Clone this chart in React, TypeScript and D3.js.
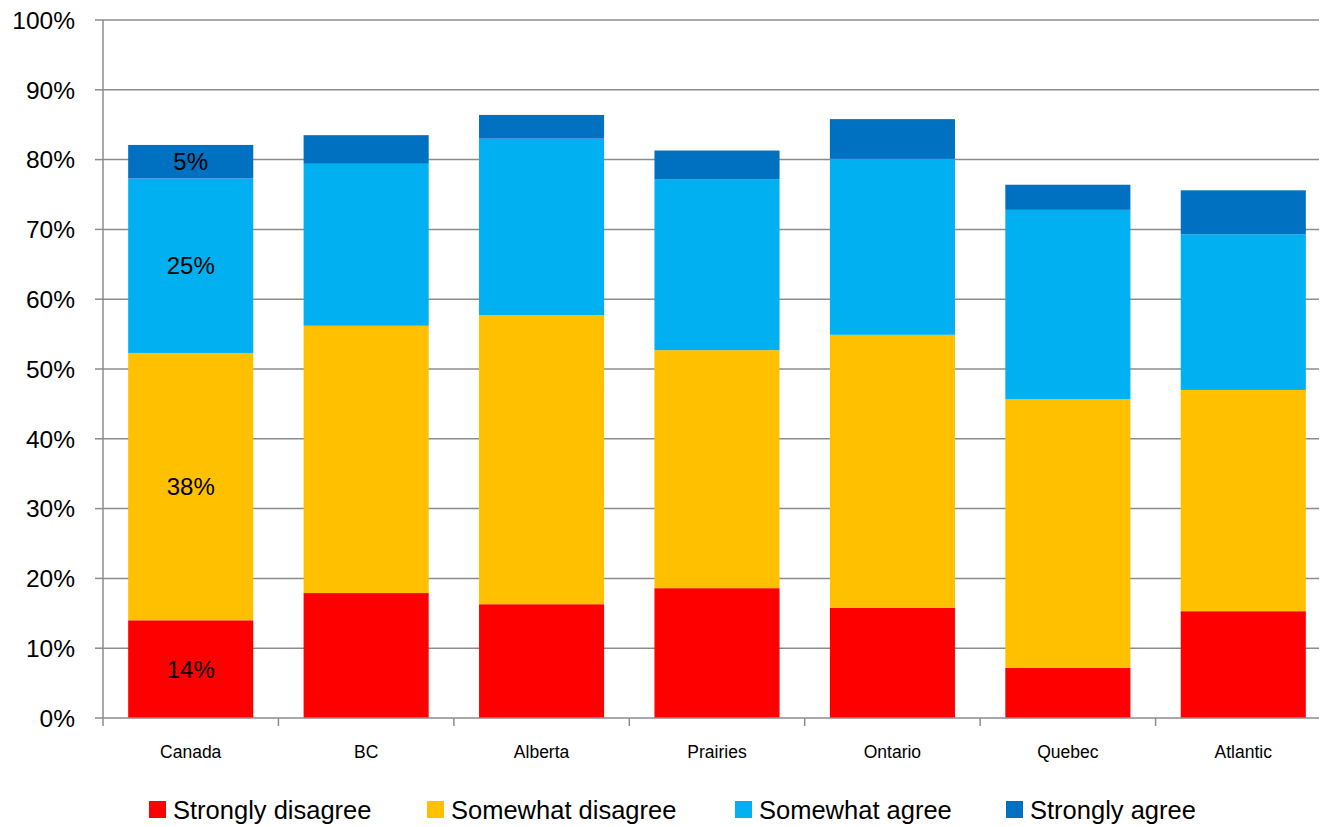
import React from "react";
import * as d3 from "d3";

const regions = ["Canada", "BC", "Alberta", "Prairies", "Ontario", "Quebec", "Atlantic"];
const seriesNames = ["Strongly disagree", "Somewhat disagree", "Somewhat agree", "Strongly agree"];
const seriesColors = ["#FF0000", "#FFC000", "#00B0F0", "#0070C0"];

const stronglyDisagree = [14.0, 17.9, 16.3, 18.6, 15.8, 7.2, 15.3];
const somewhatDisagree = [38.3, 38.3, 41.4, 34.1, 39.1, 38.5, 31.7];
const somewhatAgree = [25.0, 23.2, 25.3, 24.5, 25.2, 27.1, 22.3];
const stronglyAgree = [4.8, 4.1, 3.4, 4.1, 5.7, 3.6, 6.3];

const yTicks = [0, 10, 20, 30, 40, 50, 60, 70, 80, 90, 100];
// Only the Canada column carries value labels
const labelledRegion = "Canada";

const W = 1321;
const H = 827;
const left = 103;
const top = 20;
const bottom = 718;
const gridRight = 1319;

export default function App() {
  const rows = regions.map((r, i) => ({
    region: r,
    [seriesNames[0]]: stronglyDisagree[i],
    [seriesNames[1]]: somewhatDisagree[i],
    [seriesNames[2]]: somewhatAgree[i],
    [seriesNames[3]]: stronglyAgree[i],
  }));
  const stack = d3.stack<any>().keys(seriesNames)(rows);

  const x = d3.scaleBand<string>().domain(regions).range([left, 1331]).paddingInner(0.287).paddingOuter(0.1435);
  const xTicks = d3.scaleBand<string>().domain(regions).range([left, 1331]);
  const y = d3.scaleLinear().domain([0, 100]).range([bottom, top]);

  const font = "'Liberation Sans', Arial, sans-serif";
  const legendX = [149, 427, 735, 1006];

  return (
    <svg width={W} height={H} style={{ position: "absolute", left: 0, top: 0, background: "#fff" }}>
      {yTicks.map((t) => (
        <g key={t}>
          {t > 0 && (
            <line x1={left} x2={gridRight} y1={y(t)} y2={y(t)} stroke="#8C8C8C" strokeWidth={1.5} />
          )}
          <line x1={95} x2={left} y1={y(t)} y2={y(t)} stroke="#8C8C8C" strokeWidth={1.5} />
          <text x={75} y={y(t)} dy="0.36em" textAnchor="end" fontSize={24.5} fontFamily={font} fill="#000">
            {t}%
          </text>
        </g>
      ))}
      {stack.map((s, si) => (
        <g key={s.key} fill={seriesColors[si]}>
          {s.map((d, i) => (
            <rect
              key={regions[i]}
              x={x(regions[i])}
              width={x.bandwidth()}
              y={y(d[1])}
              height={y(d[0]) - y(d[1])}
            />
          ))}
        </g>
      ))}
      {stack.map((s) => {
        const i = regions.indexOf(labelledRegion);
        const d = s[i];
        const v = d[1] - d[0];
        return (
          <text
            key={"lbl" + s.key}
            x={(x(labelledRegion) as number) + x.bandwidth() / 2}
            y={y((d[0] + d[1]) / 2)}
            dy="0.36em"
            textAnchor="middle"
            fontSize={24}
            fontFamily={font}
            fill="#000"
          >
            {Math.round(v)}%
          </text>
        );
      })}
      <line x1={left} x2={left} y1={top} y2={bottom} stroke="#8C8C8C" strokeWidth={1.5} />
      <line x1={left} x2={gridRight} y1={bottom} y2={bottom} stroke="#8C8C8C" strokeWidth={1.5} />
      {regions.map((r) => (
        <g key={r}>
          <line
            x1={xTicks(r) as number}
            x2={xTicks(r) as number}
            y1={bottom}
            y2={bottom + 8}
            stroke="#8C8C8C"
            strokeWidth={1.5}
          />
          <text
            x={(x(r) as number) + x.bandwidth() / 2}
            y={752}
            dy="0.36em"
            textAnchor="middle"
            fontSize={17.5}
            fontFamily={font}
            fill="#000"
          >
            {r}
          </text>
        </g>
      ))}
      {seriesNames.map((n, i) => (
        <g key={n}>
          <rect x={legendX[i]} y={801} width={17} height={17} fill={seriesColors[i]} />
          <text x={legendX[i] + 24} y={810} dy="0.36em" fontSize={25.5} fontFamily={font} fill="#000">
            {n}
          </text>
        </g>
      ))}
    </svg>
  );
}
